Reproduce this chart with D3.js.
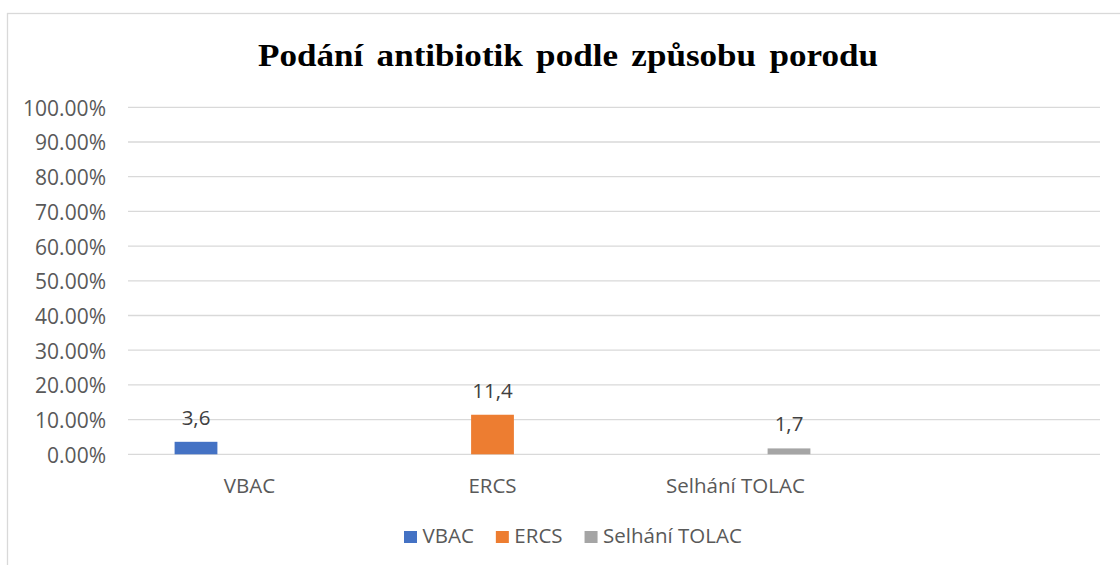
<!DOCTYPE html>
<html lang="cs">
<head>
<meta charset="UTF-8">
<title>Podání antibiotik podle způsobu porodu</title>
<script src="https://cdn.jsdelivr.net/npm/d3@7"></script>
<style>
    body { margin: 0; background: #fff; }
    svg text { font-family: "Open Sans", sans-serif; }
</style>
</head>
<body>
<svg id="chart" width="1120" height="565"></svg>
<script>
    // data
    var categories = ['VBAC', 'ERCS', 'Selhání TOLAC', ''];
    var seriesNames = ['VBAC', 'ERCS', 'Selhání TOLAC'];
    var vbacValues = [3.6, null, null, null];
    var ercsValues = [null, 11.4, null, null];
    var tolacValues = [null, null, 1.7, null];
    var yTicks = [0, 10, 20, 30, 40, 50, 60, 70, 80, 90, 100];
    var colors = ['#4472C4', '#ED7D31', '#A5A5A5'];

    var seriesValues = [vbacValues, ercsValues, tolacValues];

    var svg = d3.select('#chart');
    var plotLeft = 128, plotRight = 1100, plotTop = 107.3, plotBottom = 454.3;

    // chart frame
    svg.append('rect')
        .attr('x', 7.5).attr('y', 13.5)
        .attr('width', 1140).attr('height', 580)
        .attr('fill', 'none')
        .attr('stroke', '#d9d9d9')
        .attr('stroke-width', 1.3);

    // title
    svg.append('text')
        .attr('x', 568).attr('y', 66)
        .attr('text-anchor', 'middle')
        .attr('textLength', 620)
        .attr('lengthAdjust', 'spacingAndGlyphs')
        .style('font-family', '"Liberation Serif", "Times New Roman", serif')
        .style('font-weight', 'bold')
        .style('font-size', '31px')
        .style('word-spacing', '4px')
        .attr('fill', '#000')
        .text('Podání antibiotik podle způsobu porodu');

    var y = d3.scaleLinear().domain([0, 100]).range([plotBottom, plotTop]);
    var x0 = d3.scaleBand().domain(d3.range(categories.length)).range([plotLeft, plotRight]);
    var groupW = 160.5;
    var x1 = d3.scaleBand().domain(d3.range(seriesNames.length))
        .range([(x0.bandwidth() - groupW) / 2, (x0.bandwidth() + groupW) / 2])
        .paddingInner(0.2).paddingOuter(0.1);

    // gridlines
    svg.append('g').selectAll('line')
        .data(yTicks)
        .enter().append('line')
        .attr('x1', plotLeft).attr('x2', plotRight)
        .attr('y1', function(d) { return y(d); })
        .attr('y2', function(d) { return y(d); })
        .attr('stroke', '#d9d9d9')
        .attr('stroke-width', 1.3);

    // y axis labels
    var yAxis = d3.axisLeft(y).tickValues(yTicks).tickSize(0).tickPadding(0)
        .tickFormat(function(d) { return d3.format('.2f')(d) + '%'; });
    var gy = svg.append('g').attr('transform', 'translate(106,0)').call(yAxis);
    gy.select('.domain').remove();
    gy.selectAll('text')
        .style('font-family', '"Open Sans", sans-serif')
        .style('font-size', '21px')
        .attr('fill', '#595959')
        .attr('dy', '0.38em');

    // x axis labels
    var xAxis = d3.axisBottom(x0).tickSize(0).tickPadding(0)
        .tickFormat(function(i) { return categories[i]; });
    var gx = svg.append('g').attr('transform', 'translate(0,' + plotBottom + ')').call(xAxis);
    gx.select('.domain').remove();
    gx.selectAll('text')
        .style('font-family', '"Open Sans", sans-serif')
        .style('font-size', '20.5px')
        .attr('fill', '#595959')
        .attr('dy', null)
        .attr('y', 38.5);

    // bars
    var czLocale = d3.formatLocale({ decimal: ',', thousands: ' ', grouping: [3], currency: ['', ' Kč'] });
    var fmt = czLocale.format('.1f');

    var barData = [];
    seriesValues.forEach(function(vals, s) {
        vals.forEach(function(v, c) {
            if (v != null) barData.push({ s: s, c: c, v: v });
        });
    });

    svg.append('g').selectAll('rect')
        .data(barData)
        .enter().append('rect')
        .attr('x', function(d) { return x0(d.c) + x1(d.s); })
        .attr('y', function(d) { return y(d.v); })
        .attr('width', x1.bandwidth())
        .attr('height', function(d) { return y(0) - y(d.v); })
        .attr('fill', function(d) { return colors[d.s]; });

    svg.append('g').selectAll('text')
        .data(barData)
        .enter().append('text')
        .attr('x', function(d) { return x0(d.c) + x1(d.s) + x1.bandwidth() / 2; })
        .attr('y', function(d) { return y(d.v) - 17; })
        .attr('text-anchor', 'middle')
        .style('font-size', '20.5px')
        .attr('fill', '#404040')
        .text(function(d) { return fmt(d.v); });

    // legend
    var legend = svg.append('g');
    var items = legend.selectAll('g')
        .data(seriesNames)
        .enter().append('g');
    items.append('rect')
        .attr('width', 13).attr('height', 12)
        .attr('y', 531)
        .attr('fill', function(d, i) { return colors[i]; });
    items.append('text')
        .attr('x', 18.5).attr('y', 543)
        .style('font-size', '20.5px')
        .attr('fill', '#595959')
        .text(function(d) { return d; });

    var xpos = 404;
    items.each(function() {
        var g = d3.select(this);
        g.attr('transform', 'translate(' + xpos + ',0)');
        xpos += 18.5 + g.select('text').node().getComputedTextLength() + 22;
    });
</script>
</body>
</html>
